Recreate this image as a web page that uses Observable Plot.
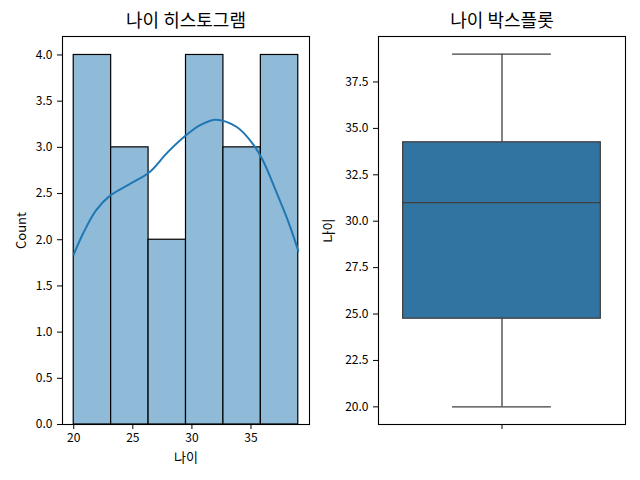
<!DOCTYPE html>
<html><head><meta charset="utf-8">
<script src="https://cdn.jsdelivr.net/npm/d3@7"></script>
<script src="https://cdn.jsdelivr.net/npm/@observablehq/plot@0.6"></script>
<style>
body{margin:0;background:#fff;}
#wrap{display:flex;width:640px;height:480px;}
#wrap svg{font-family:"Noto Sans CJK KR","Noto Sans",sans-serif;display:block;overflow:visible;}
</style></head><body><div id="wrap"></div>
<script>
// Histogram data
const binEdges = [20, 23.1667, 26.3333, 29.5, 32.6667, 35.8333, 39];
const binCounts = [4, 3, 2, 4, 3, 4];
// KDE curve
const kdeAge   = [20, 20.8, 21.9, 23.1, 24.7, 26.4, 27.9, 29.5, 30.7, 32.0, 33.8, 35.2, 36.0, 37.2, 38.2, 39];
const kdeCount = [1.84, 2.07, 2.32, 2.48, 2.60, 2.73, 2.94, 3.13, 3.24, 3.30, 3.22, 3.03, 2.86, 2.50, 2.18, 1.88];
// Box plot summary
const boxStatNames  = ["min", "q1", "median", "q3", "max"];
const boxStatValues = [20, 24.75, 31, 34.25, 39];
// Tick labels
const histXTicks = [20, 25, 30, 35];
const histYTicks = [0, 0.5, 1, 1.5, 2, 2.5, 3, 3.5, 4];
const boxYTicks  = [20, 22.5, 25, 27.5, 30, 32.5, 35, 37.5];
// Texts
const histTitle = "나이 히스토그램";
const boxTitle = "나이 박스플롯";
const histXLabel = "나이";
const histYLabel = "Count";
const boxYLabel = "나이";

const bins = binCounts.map((c, i) => ({x1: binEdges[i], x2: binEdges[i + 1], count: c}));
const kde = kdeAge.map((a, i) => ({age: a, count: kdeCount[i]}));
const st = Object.fromEntries(boxStatNames.map((n, i) => [n, boxStatValues[i]]));

const FONT = '"Noto Sans CJK KR","Noto Sans",sans-serif';
const lineGray = "#3f3f3f";

const left = Plot.plot({
  width: 320, height: 480,
  marginLeft: 62, marginRight: 11, marginTop: 36, marginBottom: 56,
  style: {fontFamily: FONT, fontSize: "12px", color: "#000", background: "white"},
  x: {domain: [19.05, 39.95]},
  y: {domain: [0, 4.2]},
  marks: [
    Plot.rectY(bins, {x1: "x1", x2: "x2", y1: 0, y2: "count", fill: "#8fbbd9", stroke: "#000", strokeWidth: 1.2, inset: 0}),
    Plot.line(kde, {x: "age", y: "count", stroke: "#1f77b4", strokeWidth: 2, curve: "catmull-rom"}),
    Plot.frame({stroke: "#000", strokeWidth: 1.1}),
    Plot.axisX({ticks: histXTicks, tickSize: 5, tickPadding: 4, label: null, tickFormat: d3.format("d")}),
    Plot.axisY({ticks: histYTicks, tickSize: 5, tickPadding: 5, label: null, tickFormat: d3.format(".1f")}),
    Plot.text([histTitle], {frameAnchor: "top", lineAnchor: "middle", textAnchor: "middle", dy: -15, fontSize: 18}),
    Plot.text([histXLabel], {frameAnchor: "bottom", lineAnchor: "middle", textAnchor: "middle", dy: 33, fontSize: 13}),
    Plot.text([histYLabel], {frameAnchor: "left", lineAnchor: "middle", textAnchor: "middle", dx: -41, rotate: -90, fontSize: 13})
  ]
});

const right = Plot.plot({
  width: 320, height: 480,
  marginLeft: 58, marginRight: 15, marginTop: 36, marginBottom: 56,
  style: {fontFamily: FONT, fontSize: "12px", color: "#000", background: "white"},
  x: {domain: [-0.5, 0.5]},
  y: {domain: [19.05, 39.95]},
  marks: [
    Plot.ruleX([0], {y1: st.q3, y2: st.max, stroke: lineGray, strokeWidth: 1.3}),
    Plot.ruleX([0], {y1: st.min, y2: st.q1, stroke: lineGray, strokeWidth: 1.3}),
    Plot.ruleY([st.min, st.max], {x1: -0.2, x2: 0.2, stroke: lineGray, strokeWidth: 1.3}),
    Plot.rect([st], {x1: -0.4, x2: 0.4, y1: "q1", y2: "q3", fill: "#3274a1", stroke: lineGray, strokeWidth: 1.3}),
    Plot.ruleY([st.median], {x1: -0.4, x2: 0.4, stroke: lineGray, strokeWidth: 1.3}),
    Plot.frame({stroke: "#000", strokeWidth: 1.1}),
    Plot.axisX({ticks: [0], tickSize: 5, tickFormat: () => "", label: null}),
    Plot.axisY({ticks: boxYTicks, tickSize: 5, tickPadding: 5, label: null, tickFormat: d3.format(".1f")}),
    Plot.text([boxTitle], {frameAnchor: "top", lineAnchor: "middle", textAnchor: "middle", dy: -15, fontSize: 18}),
    Plot.text([boxYLabel], {frameAnchor: "left", lineAnchor: "middle", textAnchor: "middle", dx: -50, rotate: -90, fontSize: 13})
  ]
});

document.getElementById("wrap").append(left, right);
</script>
</body></html>
